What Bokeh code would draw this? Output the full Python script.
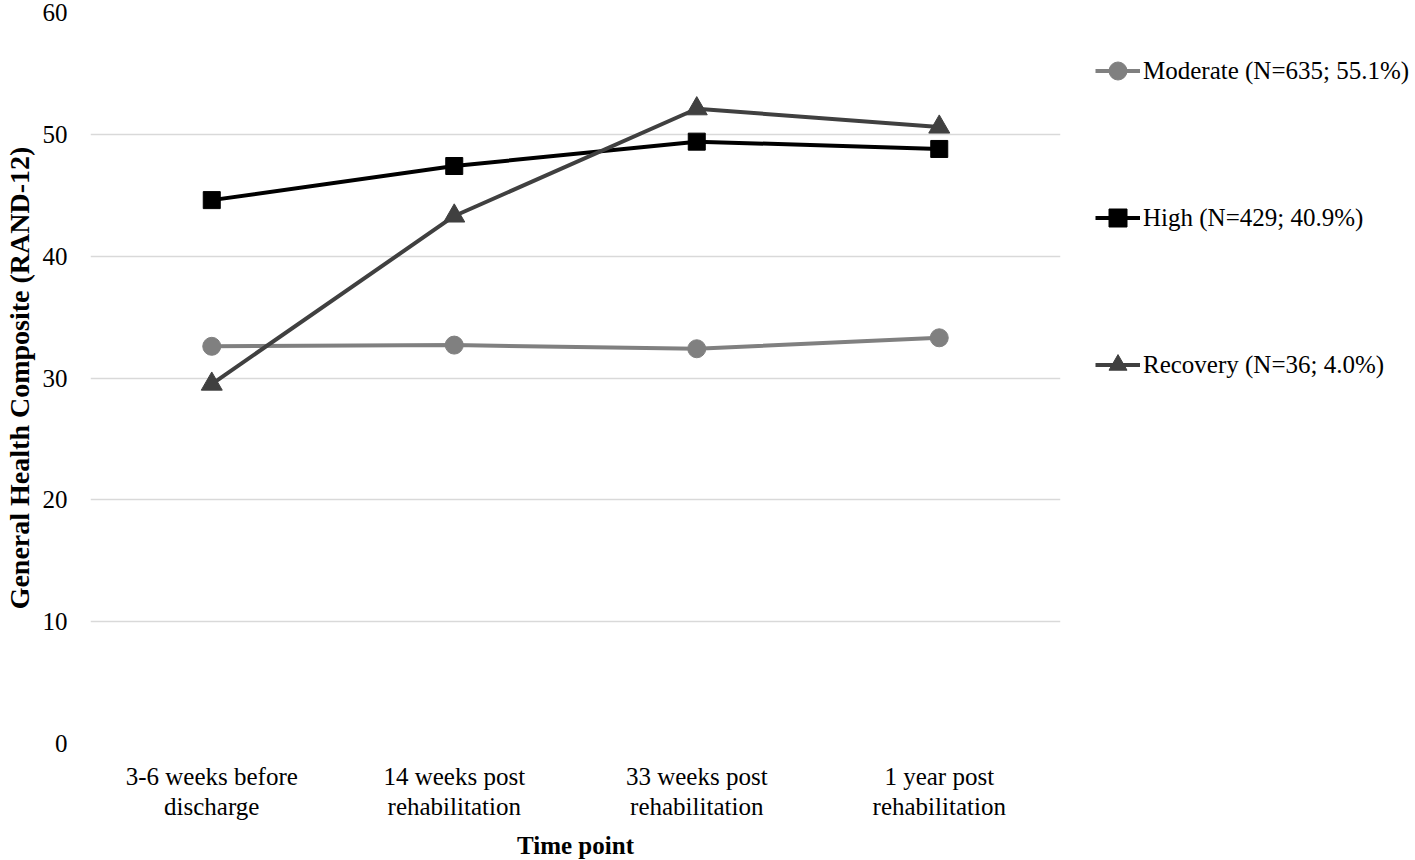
from bokeh.plotting import figure
from bokeh.models import Range1d, FixedTicker, Legend, LegendItem
from bokeh.embed import file_html
from bokeh.resources import INLINE

time_points = ["3-6 weeks before\ndischarge", "14 weeks post\nrehabilitation",
               "33 weeks post\nrehabilitation", "1 year post\nrehabilitation"]
x_pos = [0.5, 1.5, 2.5, 3.5]
moderate = [32.6, 32.7, 32.4, 33.3]
high = [44.6, 47.4, 49.4, 48.8]
recovery = [29.5, 43.3, 52.1, 50.6]
labels = ["Moderate (N=635; 55.1%)", "High (N=429; 40.9%)", "Recovery (N=36; 4.0%)"]
y_ticks = [0, 10, 20, 30, 40, 50, 60]

FONT = "Liberation Serif"

p = figure(width=1415, height=860, frame_width=970, frame_height=731,
           output_backend="svg", toolbar_location=None,
           x_range=Range1d(0, 4), y_range=Range1d(0, 60),
           min_border_left=90, min_border_right=0, min_border_top=12, min_border_bottom=0)
p.outline_line_color = None
p.background_fill_color = "white"
p.border_fill_color = "white"

p.xgrid.grid_line_color = None
p.ygrid.grid_line_color = "#d9d9d9"
p.ygrid.grid_line_width = 1.5
p.ygrid.ticker = FixedTicker(ticks=y_ticks)

p.yaxis.ticker = FixedTicker(ticks=y_ticks)
p.xaxis.ticker = FixedTicker(ticks=x_pos)
p.xaxis.major_label_overrides = {x: lab for x, lab in zip(x_pos, time_points)}

for ax in (p.xaxis[0], p.yaxis[0]):
    ax.axis_line_color = None
    ax.major_tick_line_color = None
    ax.minor_tick_line_color = None
    ax.major_tick_out = 0
    ax.major_tick_in = 0
    ax.minor_tick_out = 0
    ax.minor_tick_in = 0
    ax.major_label_text_font = FONT
    ax.major_label_text_font_size = "25px"
    ax.major_label_text_color = "#000000"
    ax.axis_label_text_font = FONT
    ax.axis_label_text_font_style = "bold"
    ax.axis_label_text_color = "#000000"

p.xaxis.axis_label = "Time point"
p.xaxis.axis_label_text_font_size = "25px"
p.xaxis.major_label_text_line_height = 1.12
p.xaxis.major_label_standoff = 19
p.xaxis.axis_label_standoff = 9
p.yaxis.axis_label = "General Health Composite (RAND-12)"
p.yaxis.axis_label_text_font_size = "28px"
p.yaxis.major_label_standoff = 23
p.yaxis.axis_label_standoff = 5

series = [
    (moderate, "#808080", "circle", 18),
    (high, "#000000", "square", 17),
    (recovery, "#404040", "triangle", 21),
]
items = []
for (vals, color, marker, size), lab in zip(series, labels):
    r1 = p.line(x_pos, vals, line_color=color, line_width=4)
    r2 = p.scatter(x_pos, vals, marker=marker, size=size, fill_color=color, line_color=color)
    items.append(LegendItem(label=lab, renderers=[r1, r2]))

legend = Legend(items=items, location=(35, 356), orientation="vertical",
                glyph_width=45, glyph_height=45, label_height=45, label_standoff=3,
                spacing=102, padding=0, margin=0,
                label_text_font=FONT, label_text_font_size="25px", label_text_color="#000000",
                background_fill_alpha=0, border_line_color=None)
p.add_layout(legend, "right")

open("out.html", "w").write(file_html(p, INLINE))
